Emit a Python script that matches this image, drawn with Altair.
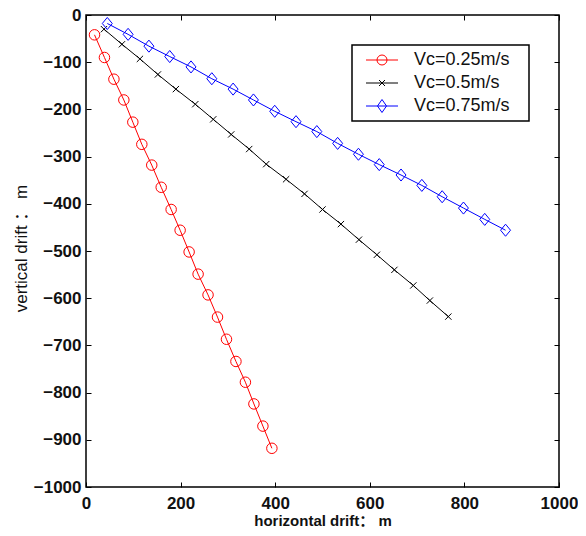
import altair as alt
import pandas as pd

# ---- data ----
series_names = ["Vc=0.25m/s", "Vc=0.5m/s", "Vc=0.75m/s"]
series_colors = ["#ff0000", "#000000", "#0000ff"]

x_025 = [18, 39, 59, 80, 99, 118, 139, 159, 180, 199, 218, 237, 258, 278, 297, 317, 337, 355, 374, 393]
y_025 = [-42, -90, -136, -180, -227, -274, -318, -365, -412, -456, -502, -549, -593, -640, -687, -734, -778, -824, -871, -918]

x_05 = [38, 76, 114, 152, 190, 231, 269, 307, 345, 381, 423, 462, 500, 539, 577, 615, 652, 692, 727, 766]
y_05 = [-30, -62, -93, -126, -157, -189, -221, -253, -284, -316, -348, -379, -412, -443, -476, -508, -540, -573, -605, -639]

x_075 = [45, 89, 133, 177, 222, 266, 311, 354, 399, 444, 488, 532, 576, 620, 666, 710, 753, 798, 843, 887]
y_075 = [-18, -41, -66, -88, -110, -135, -157, -180, -204, -226, -247, -272, -295, -317, -339, -361, -385, -409, -433, -456]

x_ticks = [0, 200, 400, 600, 800, 1000]
y_ticks = [-1000, -900, -800, -700, -600, -500, -400, -300, -200, -100, 0]

x_title = "horizontal drift： m"
y_title = "vertical drift ： m"

# ---- table ----
rows = []
for name, xs, ys in zip(series_names, [x_025, x_05, x_075], [y_025, y_05, y_075]):
    for i, (xv, yv) in enumerate(zip(xs, ys)):
        rows.append({"series": name, "legend_series": name, "idx": i, "x": xv, "y": yv})
df = pd.DataFrame(rows)

FONT = "Liberation Sans, Arial, Noto Sans CJK SC"
W, H = 473, 472

xscale = alt.Scale(domain=[0, 1000], nice=False, zero=False)
yscale = alt.Scale(domain=[-1000, 0], nice=False, zero=False)
color_scale = alt.Scale(domain=series_names, range=series_colors)

marker_shapes = [
    "circle",
    "M-0.6,-0.6L0.6,0.6M-0.6,0.6L0.6,-0.6",
    "M-0.95,0L0,-1.15L0.95,0L0,1.15Z",
]
legend_shapes = [
    "M-0.2,0H6.2M4,0A1,1 0 1,1 2,0A1,1 0 1,1 4,0",
    "M-0.2,0H6.2M2.4,-0.6L3.6,0.6M2.4,0.6L3.6,-0.6",
    "M-0.2,0H6.2M2.1,0L3,-1.3L3.9,0L3,1.3Z",
]

base = alt.Chart(df)

tick_only = dict(labels=False, domain=False, grid=False, ticks=True, tickSize=5,
                 tickColor="black", tickWidth=1, title=None)

lines = base.mark_line(strokeWidth=1).encode(
    x=alt.X("x:Q", scale=xscale, axis=alt.Axis(
        orient="bottom", values=x_ticks, format="d", ticks=False, tickSize=0, domain=False, grid=False,
        labelFlush=False, labelFont=FONT, labelFontSize=17, labelFontWeight="bold", labelColor="#111",
        labelPadding=8, title=x_title, titleFont=FONT, titleFontSize=15,
        titleFontWeight="bold", titleColor="#111", titleY=38, titleBaseline="alphabetic")),
    y=alt.Y("y:Q", scale=yscale, axis=alt.Axis(
        orient="left", values=y_ticks, format="d", ticks=False, tickSize=0, domain=False, grid=False,
        labelFlush=False, labelFont=FONT, labelFontSize=17, labelFontWeight="bold", labelColor="#111",
        labelPadding=5, title=y_title, titleFont=FONT, titleFontSize=17,
        titleFontWeight="normal", titleColor="#111", titleX=-60, titleY=233,
        titleBaseline="alphabetic")),
    color=alt.Color("series:N", scale=color_scale, legend=None),
    order=alt.Order("idx:Q"),
)

points = base.mark_point(filled=False, strokeWidth=1, size=110, opacity=1).encode(
    x=alt.X("x:Q", scale=xscale, axis=alt.Axis(orient="top", offset=-H, values=x_ticks, **tick_only)),
    y=alt.Y("y:Q", scale=yscale, axis=alt.Axis(orient="right", offset=-W, values=y_ticks, **tick_only)),
    color=alt.Color("series:N", scale=color_scale, legend=None),
    shape=alt.Shape("series:N", scale=alt.Scale(domain=series_names, range=marker_shapes), legend=None),
)

leg = alt.Legend(
    title=None, orient="none", legendX=266, legendY=30, strokeColor="black",
    fillColor="white", padding=6, labelFont=FONT, labelFontSize=18, labelColor="#111",
    symbolSize=100, symbolStrokeWidth=1, labelOffset=38, rowPadding=5,
    labelExpr="datum.label + '\u2800'", labelLimit=0,
)

legend_layer = base.transform_filter("datum.x > 5000").mark_point(
    filled=False, strokeWidth=1, opacity=1).encode(
    x=alt.X("x:Q", scale=xscale, axis=alt.Axis(orient="bottom", offset=-H, values=x_ticks, **tick_only)),
    y=alt.Y("y:Q", scale=yscale, axis=alt.Axis(orient="left", offset=-W, values=y_ticks, **tick_only)),
    color=alt.Color("legend_series:N", scale=alt.Scale(domain=series_names, range=series_colors), legend=leg),
    shape=alt.Shape("legend_series:N", scale=alt.Scale(domain=series_names, range=legend_shapes), legend=leg),
)

chart = alt.layer(lines, points, legend_layer).resolve_axis(
    x="independent", y="independent"
).resolve_scale(
    color="independent", shape="independent"
).properties(
    width=W, height=H,
    autosize=alt.AutoSizeParams(type="none"),
    padding={"left": 78, "top": 7, "right": 19, "bottom": 41},
    background="white",
).configure_view(
    stroke="black", strokeWidth=1.5
).configure_legend(
    strokeWidth=1.5
)

chart.save("out.html", embed_options={"renderer": "svg", "actions": False})
